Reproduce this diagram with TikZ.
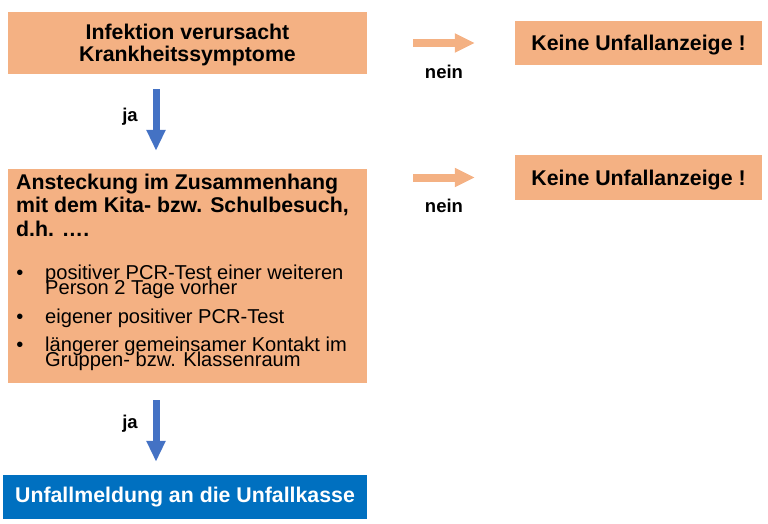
\documentclass[tikz,border=0pt]{standalone}
\usepackage{fontspec}
\setmainfont{Liberation Sans}
\usetikzlibrary{arrows.meta}
\definecolor{salmon}{HTML}{F4B183}
\definecolor{arrowblue}{HTML}{4472C4}
\definecolor{boxblue}{HTML}{0070C0}
\newcommand\mybold{\bfseries\fontsize{21.3}{22}\selectfont}
\newcommand\myreg{\fontsize{20.1}{22}\selectfont}
\newcommand\mylbl{\bfseries\fontsize{18.5}{20}\selectfont}
\tikzset{
  sbox/.style={fill=salmon, draw=none, inner sep=0pt, text=black},
  bbox/.style={fill=boxblue, draw=none, inner sep=0pt, text=white},
  txt/.style={inner sep=0pt, anchor=base west},
  lbl/.style={inner sep=0pt, font=\mylbl},
  bluearr/.style={draw=arrowblue, line width=7pt, -{Triangle[width=18pt,length=21pt]}},
  orarr/.style={draw=salmon, line width=8pt, -{Triangle[width=18pt,length=20pt]}}
}
\begin{document}
\begin{tikzpicture}[x=1pt,y=-1pt]
\useasboundingbox (0,0) rectangle (768,524);
% boxes
\node[sbox, minimum width=359pt, minimum height=62pt] (box1) at (187.5,43) {};
\node[inner sep=0pt, anchor=base, font=\mybold] (h1) at (187.5,40) {Infektion verursacht};
\node[inner sep=0pt, anchor=base, font=\mybold] (h2) at (187.5,61.5) {Krankheitssymptome};
\node[sbox, minimum width=247pt, minimum height=44pt, text depth=0pt, font=\mybold] (keine1) at (638.5,43) {Keine Unfallanzeige !};
\node[sbox, minimum width=247pt, minimum height=45pt, text depth=0pt, font=\mybold] (keine2) at (638.5,177.5) {Keine Unfallanzeige !};
\node[sbox, minimum width=359pt, minimum height=214pt] (box2) at (187.5,276) {};
\node[bbox, minimum width=364pt, minimum height=44pt, font=\mybold] (box3) at (185,497) {Unfallmeldung an die Unfallkasse};
% text of box2
\node[txt, font=\mybold] (t1) at (16,189) {Ansteckung im Zusammenhang};
\node[txt, font=\mybold] (t2) at (16,212.5) {mit dem Kita- bzw. Schulbesuch,};
\node[txt, font=\mybold] (t3) at (16,236) {d.h. \dots.};
\node[inner sep=0pt, anchor=base, font=\myreg] (b1) at (20,279) {\textbullet};
\node[inner sep=0pt, anchor=base, font=\myreg] (b2) at (20,323) {\textbullet};
\node[inner sep=0pt, anchor=base, font=\myreg] (b3) at (20,351) {\textbullet};
\node[txt, font=\myreg] (l1) at (45,279) {positiver PCR-Test einer weiteren};
\node[txt, font=\myreg] (l2) at (45,294) {Person 2 Tage vorher};
\node[txt, font=\myreg] (l3) at (45,323) {eigener positiver PCR-Test};
\node[txt, font=\myreg] (l4) at (45,351) {längerer gemeinsamer Kontakt im};
\node[txt, font=\myreg] (l5) at (45,366) {Gruppen- bzw. Klassenraum};
% connectors
\coordinate (jx) at (156,0);
\draw[bluearr, shorten <=15pt, shorten >=18pt] (box1.south -| jx) -- (box2.north -| jx);
\draw[bluearr, shorten <=17pt, shorten >=13pt] (box2.south -| jx) -- (box3.north -| jx);
\draw[orarr, shorten <=46pt, shorten >=40pt] (box1.east) -- (keine1.west);
\draw[orarr, shorten <=46pt, shorten >=40pt] (box2.east |- keine2.west) -- (keine2.west);
% labels
\node[lbl] (ja1) at (130,117) {ja};
\node[lbl] (ja2) at (130,424) {ja};
\node[lbl] (nein1) at (444,72) {nein};
\node[lbl] (nein2) at (444,206) {nein};
\end{tikzpicture}
\end{document}
